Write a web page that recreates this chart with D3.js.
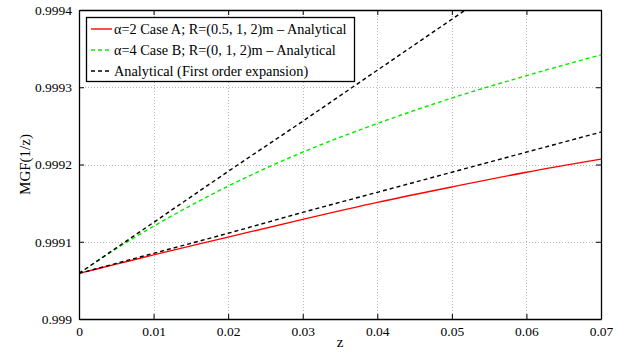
<!DOCTYPE html>
<html>
<head>
<meta charset="utf-8">
<script src="https://cdn.jsdelivr.net/npm/d3@7"></script>
<style>
  body { margin: 0; background: #fff; }
  svg text { font-family: "Liberation Serif", "DejaVu Serif", serif; fill: #000; }
</style>
</head>
<body>
<svg id="chart" width="634" height="352"></svg>
<script>
// values
const zValues = [0, 0.005, 0.01, 0.02, 0.03, 0.04, 0.05, 0.06, 0.07];
const caseA = [0.999059, 0.999071, 0.999083, 0.999106, 0.999129, 0.999151, 0.999171, 0.999190, 0.999207];
const caseB = [0.999059, 0.999091, 0.999120, 0.999172, 0.999216, 0.999253, 0.999286, 0.999315, 0.999342];
const firstOrderA = [0.999059, 0.999072, 0.999085, 0.999111, 0.999138, 0.999164, 0.999190, 0.999216, 0.999242];
const firstOrderB = [0.999059, 0.999092, 0.999125, 0.999191, 0.999256, 0.999322, 0.999388, 0.999454, 0.999520];
const xTicks = [0, 0.01, 0.02, 0.03, 0.04, 0.05, 0.06, 0.07];
const yTicks = [0.999, 0.9991, 0.9992, 0.9993, 0.9994];
const legendLabels = [
  "\u03b1=2 Case A; R=(0.5, 1, 2)m \u2013 Analytical",
  "\u03b1=4 Case B; R=(0, 1, 2)m \u2013 Analytical",
  "Analytical (First order expansion)"
];

const mLeft = 79, mRight = 601, mTop = 10, mBottom = 319;
const svg = d3.select('#chart');

const x = d3.scaleLinear().domain([0, 0.07]).range([mLeft, mRight]);
const y = d3.scaleLinear().domain([0.999, 0.9994]).range([mBottom, mTop]);

// grid
const grid = svg.append('g').attr('stroke', '#b8b8b8').attr('stroke-width', 1)
  .attr('stroke-dasharray', '1,2');
grid.selectAll('.gx').data(xTicks.slice(1, -1)).enter().append('line')
  .attr('x1', d => Math.round(x(d)) + 0.5).attr('x2', d => Math.round(x(d)) + 0.5)
  .attr('y1', mTop).attr('y2', mBottom);
grid.selectAll('.gy').data(yTicks.slice(1, -1)).enter().append('line')
  .attr('y1', d => Math.round(y(d)) + 0.5).attr('y2', d => Math.round(y(d)) + 0.5)
  .attr('x1', mLeft).attr('x2', mRight);

// series
svg.append('clipPath').attr('id', 'plot').append('rect')
  .attr('x', mLeft).attr('y', mTop).attr('width', mRight - mLeft).attr('height', mBottom - mTop);
const plot = svg.append('g').attr('clip-path', 'url(#plot)');
const line = vals => d3.line().x((d, i) => x(zValues[i])).y(d => y(d)).curve(d3.curveMonotoneX)(vals);

const series = [
  { vals: caseA, color: '#ff0000', dash: null },
  { vals: firstOrderA, color: '#000', dash: '4,3' },
  { vals: caseB, color: '#00ee00', dash: '4,3' },
  { vals: firstOrderB, color: '#000', dash: '4,3' }
];
plot.selectAll('path').data(series).enter().append('path')
  .attr('d', d => line(d.vals))
  .attr('fill', 'none')
  .attr('stroke', d => d.color)
  .attr('stroke-width', 1.4)
  .attr('stroke-dasharray', d => d.dash);

// axes box with inward ticks on all sides
const axisBottom = d3.axisBottom(x).tickValues(xTicks).tickFormat(d => d === 0 ? '0' : d3.format('.2f')(d))
  .tickSizeInner(-5).tickSizeOuter(0).tickPadding(7);
const axisLeft = d3.axisLeft(y).tickValues(yTicks).tickFormat(d => d3.format('.4~f')(d))
  .tickSizeInner(-5).tickSizeOuter(0).tickPadding(7);
const axisTop = d3.axisTop(x).tickValues(xTicks).tickFormat('').tickSizeInner(-5).tickSizeOuter(0);
const axisRight = d3.axisRight(y).tickValues(yTicks).tickFormat('').tickSizeInner(-5).tickSizeOuter(0);

const gb = svg.append('g').attr('transform', `translate(0,${mBottom})`).call(axisBottom);
const gl = svg.append('g').attr('transform', `translate(${mLeft},0)`).call(axisLeft);
svg.append('g').attr('transform', `translate(0,${mTop})`).call(axisTop);
svg.append('g').attr('transform', `translate(${mRight},0)`).call(axisRight);
svg.selectAll('.domain').attr('stroke', '#000').attr('stroke-width', 1.3);
svg.selectAll('.tick line').attr('stroke', '#000');
gb.selectAll('text').style('font-size', '13.5px').attr('dy', '0.75em')
  .style('font-family', '"Liberation Serif", serif');
gl.selectAll('text').style('font-size', '13.5px')
  .style('font-family', '"Liberation Serif", serif');

// axis labels
svg.append('text').attr('x', (mLeft + mRight) / 2).attr('y', 347)
  .attr('text-anchor', 'middle').style('font-size', '15px').text('z');
svg.append('text').attr('transform', `translate(25,${(mTop + mBottom) / 2}) rotate(-90)`)
  .attr('text-anchor', 'middle').attr('dy', '0.35em').style('font-size', '15px').text('MGF(1/z)');

// legend
const lg = svg.append('g');
lg.append('rect').attr('x', 86.5).attr('y', 17.5).attr('width', 268).attr('height', 64)
  .attr('fill', '#fff').attr('stroke', '#000').attr('stroke-width', 1.3);
const items = lg.selectAll('.item').data(legendLabels).enter().append('g')
  .attr('transform', (d, i) => `translate(91,${29 + i * 21})`);
items.append('line').attr('x1', 0).attr('x2', 21).attr('y1', 0).attr('y2', 0)
  .attr('stroke', (d, i) => ['#ff0000', '#00ee00', '#000'][i])
  .attr('stroke-width', 1.4)
  .attr('stroke-dasharray', (d, i) => i === 0 ? null : '4,3');
items.append('text').attr('x', 23).attr('dy', '0.35em').style('font-size', '14.3px').text(d => d);
</script>
</body>
</html>
